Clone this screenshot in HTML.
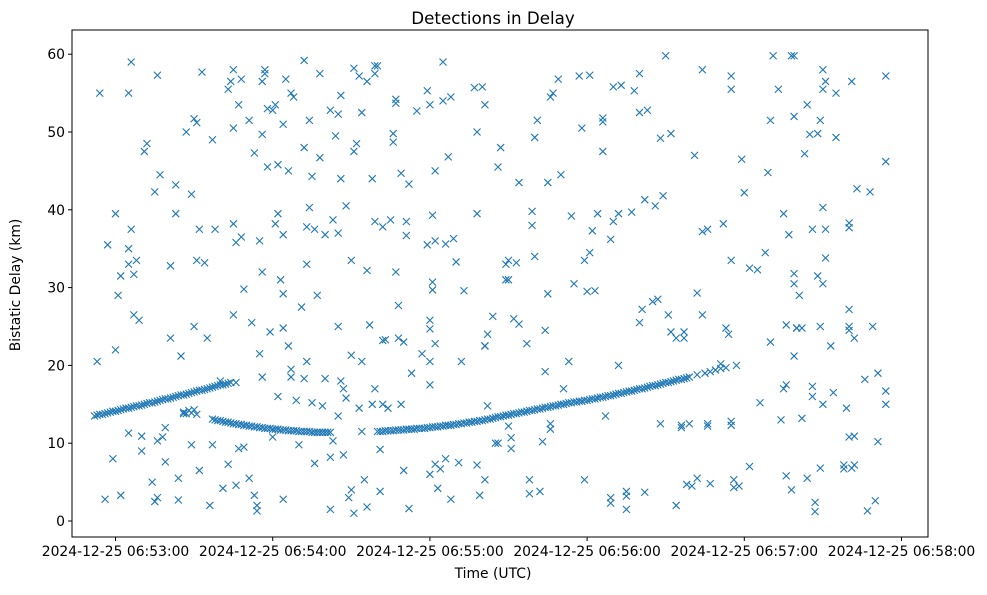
<!DOCTYPE html>
<html><head><meta charset="utf-8"><style>
html,body{margin:0;padding:0;background:#fff;}
svg text{font-family:"DejaVu Sans","Liberation Sans",sans-serif;fill:#000;}
</style></head><body>
<svg id="chart" width="987" height="590" xmlns="http://www.w3.org/2000/svg">
<rect width="987" height="590" fill="#fff"/>
<text x="493" y="24" font-size="16.7" text-anchor="middle">Detections in Delay</text>
<text x="493" y="578" font-size="13.9" text-anchor="middle">Time (UTC)</text>
<text transform="translate(20,285) rotate(-90)" font-size="13.9" text-anchor="middle">Bistatic Delay (km)</text>
<g id="marks"></g>
<g id="axes"></g>
</svg>
<script>
const xTickSeconds = [0, 60, 120, 180, 240, 300];
const xTickLabels = ["2024-12-25 06:53:00","2024-12-25 06:54:00","2024-12-25 06:55:00","2024-12-25 06:56:00","2024-12-25 06:57:00","2024-12-25 06:58:00"];
const yTicks = [0, 10, 20, 30, 40, 50, 60];
// track detections: seconds after 06:53:00, delay km
const trackT = [-8,-7,-6,-5,-4,-3,-2,-1,0,1,2,3,4,5,6,7,8,9,10,11,12,13,14,15,16,17,18,19,20,21,22,23,24,25,26,27,28,29,30,31,32,33,34,35,36,37,38,39,40,41,42,43,44,
37,38,39,40,41,42,43,44,45,46,47,48,49,50,51,52,53,54,55,56,57,58,59,60,61,62,63,64,65,66,67,68,69,70,71,72,73,74,75,76,77,78,79,80,81,82,
100,101,102,103,104,105,106,107,108,109,110,111,112,113,114,115,116,117,118,119,120,121,122,123,124,125,126,127,128,129,130,131,132,133,134,135,136,137,138,139,140,141,142,143,144,145,146,147,148,149,150,151,152,153,154,155,156,157,158,159,160,161,162,163,164,165,166,167,168,169,170,171,172,173,174,175,176,177,178,179,180,181,182,183,184,185,186,187,188,189,190,191,192,193,194,195,196,197,198,199,200,201,202,203,204,205,206,207,208,209,210,211,212,213,214,215,216,217,218,219,222,225,227,229,231,233];
const trackD = [13.5,13.6,13.7,13.7,13.8,13.9,14.0,14.1,14.1,14.2,14.3,14.4,14.5,14.5,14.6,14.7,14.8,14.8,14.9,15.0,15.1,15.2,15.2,15.3,15.4,15.5,15.6,15.7,15.7,15.8,15.9,16.0,16.1,16.2,16.2,16.3,16.4,16.5,16.6,16.7,16.8,16.8,16.9,17.0,17.1,17.2,17.3,17.4,17.5,17.5,17.6,17.7,17.8,
13.1,13.0,12.9,12.9,12.8,12.7,12.7,12.6,12.5,12.5,12.4,12.4,12.3,12.3,12.2,12.2,12.1,12.1,12.0,12.0,11.9,11.9,11.9,11.8,11.8,11.8,11.7,11.7,11.7,11.6,11.6,11.6,11.6,11.5,11.5,11.5,11.5,11.5,11.4,11.4,11.4,11.4,11.4,11.4,11.4,11.4,
11.5,11.5,11.5,11.6,11.6,11.6,11.6,11.7,11.7,11.7,11.7,11.8,11.8,11.8,11.8,11.9,11.9,11.9,11.9,12.0,12.0,12.1,12.1,12.1,12.2,12.2,12.3,12.3,12.3,12.4,12.4,12.5,12.5,12.6,12.6,12.7,12.7,12.8,12.8,12.9,12.9,13.0,13.1,13.1,13.2,13.3,13.4,13.4,13.5,13.6,13.6,13.7,13.8,13.8,13.9,14.0,14.0,14.1,14.2,14.2,14.3,14.4,14.4,14.5,14.6,14.6,14.7,14.8,14.8,14.9,15.0,15.0,15.1,15.2,15.2,15.3,15.3,15.4,15.4,15.5,15.5,15.6,15.7,15.7,15.8,15.9,15.9,16.0,16.1,16.1,16.2,16.3,16.4,16.4,16.5,16.6,16.7,16.7,16.8,16.9,17.0,17.0,17.1,17.2,17.3,17.4,17.4,17.5,17.6,17.7,17.8,17.8,17.9,18.0,18.1,18.2,18.2,18.3,18.4,18.5,18.8,19.0,19.2,19.4,19.6,19.7];
// clutter detections
const noiseT = [26,27,28,29,30,31,
-6,-7,-4,-3,-1,0,0,1,2,2,5,5,5,5,6,6,7,7,8,9,10,10,11,12,14,15,15,16,16,16,17,18,19,19,21,21,23,23,24,24,25,26,27,29,29,30,30,31,31,32,32,33,34,35,36,37,37,38,40,41,43,43,44,45,45,45,45,46,46,46,47,47,48,48,49,49,51,51,52,53,53,54,54,55,55,56,56,56,56,57,57,58,58,59,60,60,61,61,62,62,62,63,64,64,64,64,64,65,66,66,67,67,67,68,69,70,71,72,72,72,73,73,73,74,74,75,75,76,76,77,78,78,79,80,80,82,82,82,83,83,84,85,85,85,85,86,86,86,87,87,88,88,89,90,90,90,91,91,91,92,93,93,94,94,94,95,96,96,96,97,98,98,99,99,99,99,100,101,101,102,102,102,103,104,105,106,106,107,107,107,108,108,109,109,110,110,111,111,112,112,113,115,117,119,119,120,120,120,120,120,120,121,121,121,122,122,122,122,123,124,125,125,126,126,127,128,128,129,130,131,132,133,137,138,138,138,139,140,141,141,141,141,142,142,144,145,146,146,147,149,149,150,150,150,151,151,152,153,154,154,157,158,158,159,159,160,160,161,162,163,164,164,165,165,166,166,166,167,169,170,171,173,174,175,177,178,179,179,180,181,181,182,183,184,186,186,186,187,189,189,189,190,190,192,192,193,195,195,195,197,198,200,200,200,201,202,202,203,205,206,207,208,208,209,210,211,212,212,214,214,216,216,217,217,218,219,220,221,222,222,224,224,224,226,226,226,227,231,232,233,234,235,235,235,235,235,236,236,237,238,239,240,242,242,245,246,248,249,250,250,251,253,254,255,255,256,256,256,257,258,258,259,259,259,259,259,260,260,261,262,262,263,264,264,265,266,266,266,267,267,268,268,269,269,269,270,270,270,270,270,271,271,271,273,274,275,275,278,278,279,280,280,280,280,280,280,281,281,282,282,282,283,286,287,288,289,290,291,291,294,294,294,294];
const noiseD = [14.0,13.8,14.2,13.9,14.3,13.7,
55,20.5,2.8,35.5,8,39.5,22,29,3.3,31.5,11.3,33,55,35,37.5,59,31.7,26.5,33.5,25.8,9,10.9,47.5,48.5,5,2.5,42.3,3,10.3,57.3,44.5,10.8,12,7.6,23.5,32.8,43.2,39.5,5.5,2.7,21.2,13.8,50,9.8,42,51.7,25,33.5,51.2,37.5,6.5,57.7,33.2,23.5,2,9.8,49,37.5,18,4.2,7.3,55.5,56.5,58,50.5,26.5,38.2,17.8,4.6,35.8,53.5,9.3,56.8,36.5,9.5,29.8,5.5,51.5,25.5,3.3,47.3,2,1.3,21.5,36,56.5,32,18.5,49.7,58,57.5,45.5,53,24.3,52.8,10.8,38.2,53.5,39.5,45.8,16,31,2.8,29.2,24.8,36.8,51,56.8,22.5,45,19.5,18.5,55,54.5,15.5,9.8,27.5,59.2,18.3,48,37.8,33,20.5,40.3,51.5,15.2,44.3,7.4,37.5,29,57.5,46.7,14.8,36.8,18.3,1.5,52.8,8.2,38.7,10.3,49.5,25,37,52.3,13.5,54.7,44,18,8.5,17,40.5,15.8,3,33.5,21.3,4,1,58.2,47.5,48.5,14.5,57.2,11.5,52.5,20.5,5.3,1.8,56.5,32.2,25.2,15,44,38.5,17,57.5,58.5,58.5,9.2,3.8,23.2,15,37.8,23.3,14.5,38.7,48.7,49.8,54.2,53.7,32,23.5,27.7,15,44.7,6.5,23,36.7,38.5,43.3,1.6,19,52.7,21.5,35.5,55.3,53.5,25.8,24.7,20.5,6,17.5,39.3,30.7,29.7,36,7.3,22.8,45,4.2,6.7,59,54,8,35.6,46.8,2.8,54.5,36.3,33.3,7.5,20.5,29.6,55.7,7.2,39.5,50,3.3,55.8,22.5,5.3,22.5,53.5,24,14.8,26.3,10,10,45.5,48,33,31,31,33.5,12.2,10.7,9.3,26,33.2,25.3,43.5,22.8,3.5,5.3,38,39.8,34,49.3,51.5,3.8,10.2,24.5,19.2,43.5,29.2,54.5,11.8,12.5,55,56.8,44.5,17,20.5,39.2,30.5,57.2,50.5,5.3,33.5,29.5,34.5,57.3,37.3,29.6,39.5,51.3,51.8,47.5,13.5,36.2,2.3,3,55.8,38.5,20,39.5,56,1.5,3.2,3.8,39.7,55.3,25.5,57.5,52.5,27.2,41.3,3.7,52.8,28.2,40.5,28.5,49.2,12.5,41.8,59.8,26.5,24.3,49.8,23.5,2,12.3,12,24.3,23.5,4.7,12.5,4.5,47,29.3,5.5,26.5,37.2,58,37.5,12.5,12.2,4.8,20.2,38.2,24.8,24,57.2,55.5,33.5,12.8,12.3,5.3,4.3,20,4.5,46.5,42.2,7,32.5,32.3,15.2,34.5,44.8,51.5,23,59.8,55.5,13,39.5,17,17.5,5.8,25.2,36.8,59.8,4,21.2,31.8,52,30.5,59.8,24.8,24.8,29,24.8,13.2,47.2,5.5,53.5,49.7,16,37.5,17.3,2.4,1.2,49.8,31.5,25,6.8,51.5,55.5,58,30.5,40.3,15,56.5,33.8,37.5,22.5,16.5,55,49.3,7.2,6.7,14.5,25,24.5,37.7,38.3,10.8,27.2,6.8,56.5,7.2,23.5,10.9,42.7,18.2,1.3,42.3,25,2.6,19,10.2,15,16.7,46.2,57.2];

const NS = "http://www.w3.org/2000/svg";
const plotL = 72, plotR = 928, plotT = 30, plotB = 537;
function xScale(t){ return 115.5 + t * (157.2 / 60); }
function yScale(d){ return 521 - d * 7.78; }
const marks = document.getElementById('marks');
const axes = document.getElementById('axes');
function addMarker(t, d, name){
  const x = xScale(t), y = yScale(d), s = 3.5;
  const p = document.createElementNS(NS, 'path');
  p.setAttribute('d', `M${x-s},${y-s}L${x+s},${y+s}M${x-s},${y+s}L${x+s},${y-s}`);
  p.setAttribute('stroke', '#1f77b4');
  p.setAttribute('stroke-width', '1.1');
  p.setAttribute('fill', 'none');
  
  
  marks.appendChild(p);
}
for (let i = 0; i < noiseT.length; i++) addMarker(noiseT[i], noiseD[i], 'clutter-point');
for (let i = 0; i < trackT.length; i++) addMarker(trackT[i], trackD[i], 'track-point');

const frame = document.createElementNS(NS, 'rect');
frame.setAttribute('x', plotL); frame.setAttribute('y', plotT);
frame.setAttribute('width', plotR - plotL); frame.setAttribute('height', plotB - plotT);
frame.setAttribute('fill', 'none'); frame.setAttribute('stroke', '#000'); frame.setAttribute('stroke-width', '1');


axes.appendChild(frame);

xTickSeconds.forEach((t, i) => {
  const x = xScale(t);
  const l = document.createElementNS(NS, 'line');
  l.setAttribute('x1', x); l.setAttribute('x2', x); l.setAttribute('y1', plotB); l.setAttribute('y2', plotB + 4);
  l.setAttribute('stroke', '#000');
  
  
  axes.appendChild(l);
  const tx = document.createElementNS(NS, 'text');
  tx.setAttribute('x', x); tx.setAttribute('y', plotB + 19);
  tx.setAttribute('font-size', '13.9'); tx.setAttribute('text-anchor', 'middle');
  tx.textContent = xTickLabels[i];
  
  
  axes.appendChild(tx);
});
yTicks.forEach(v => {
  const y = yScale(v);
  const l = document.createElementNS(NS, 'line');
  l.setAttribute('x1', plotL - 4); l.setAttribute('x2', plotL); l.setAttribute('y1', y); l.setAttribute('y2', y);
  l.setAttribute('stroke', '#000');
  
  
  axes.appendChild(l);
  const tx = document.createElementNS(NS, 'text');
  tx.setAttribute('x', plotL - 7); tx.setAttribute('y', y + 5);
  tx.setAttribute('font-size', '13.9'); tx.setAttribute('text-anchor', 'end');
  tx.textContent = String(v);
  
  
  axes.appendChild(tx);
});
</script>
</body></html>
